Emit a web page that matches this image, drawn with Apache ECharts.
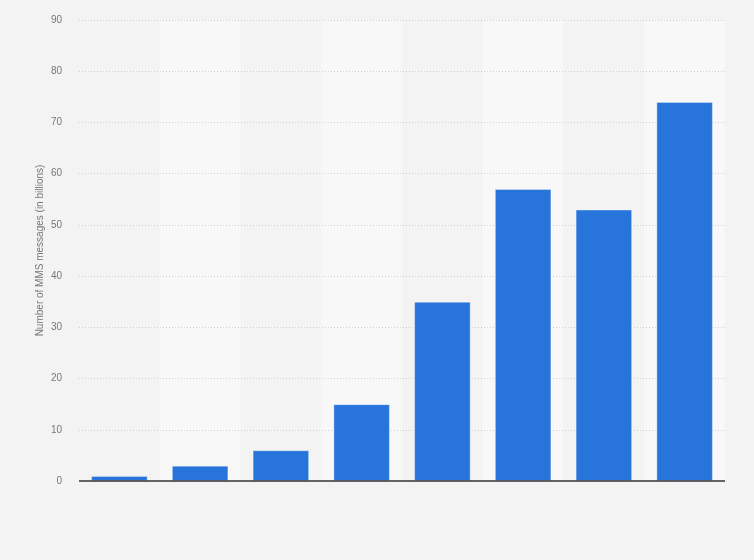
<!DOCTYPE html>
<html><head><meta charset="utf-8">
<script src="https://cdn.jsdelivr.net/npm/echarts@6/dist/echarts.min.js"></script>
<style>html,body{margin:0;padding:0;background:#f3f3f3}#c{width:754px;height:560px}</style>
</head><body><div id="c"></div>
<script>
var categories = ['1','2','3','4','5','6','7','8'];
var values = [1, 3, 6, 15, 35, 57, 53, 74];
var yTicks = {min: 0, max: 90, interval: 10};
var yTitle = 'Number of MMS messages (in billions)';

var chart = echarts.init(document.getElementById('c'));
chart.setOption({
  backgroundColor: '#f3f3f3',
  animation: false,
  grid: {left: 79, right: 29, top: 20, bottom: 79},
  xAxis: {
    type: 'category',
    z: 0,
    data: categories,
    axisLine: {show: false},
    axisTick: {show: false},
    axisLabel: {show: false},
    splitArea: {show: true, areaStyle: {color: ['rgba(0,0,0,0)', '#f8f8f8']}}
  },
  yAxis: {
    type: 'value',
    z: 1,
    min: yTicks.min, max: yTicks.max, interval: yTicks.interval,
    name: yTitle,
    nameLocation: 'middle',
    nameGap: 34,
    nameMoveOverlap: false,
    nameTextStyle: {color: '#777', fontSize: 10, fontFamily: 'Arial, Liberation Sans, sans-serif'},
    axisLine: {show: false},
    axisTick: {show: false},
    axisLabel: {color: '#777', fontSize: 10, margin: 17, fontFamily: 'Arial, Liberation Sans, sans-serif'},
    splitLine: {showMinLine: false, lineStyle: {color: '#d0d0d0', type: [1, 2], width: 1}}
  },
  series: [{
    type: 'bar',
    z: 2,
    data: values,
    barCategoryGap: '30%',
    itemStyle: {color: '#2775db', borderColor: 'rgba(255,255,255,0.35)', borderWidth: 1},
    markLine: {
      silent: true,
      symbol: 'none',
      label: {show: false},
      lineStyle: {color: '#333', width: 1.5, type: 'solid'},
      data: [{yAxis: yTicks.min}]
    }
  }]
});
</script></body></html>
